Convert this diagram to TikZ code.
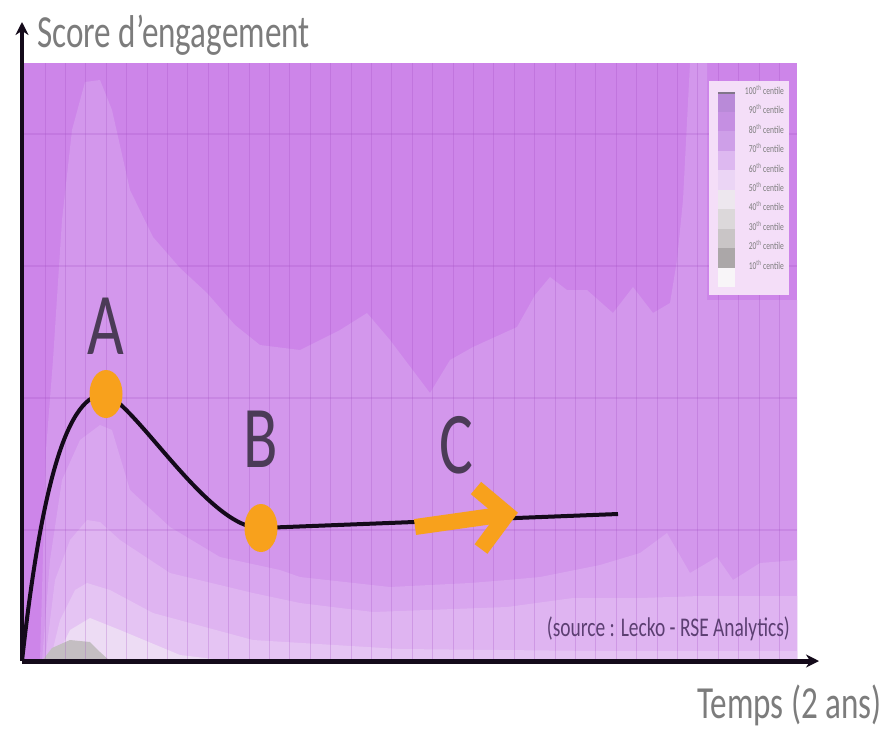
\documentclass[tikz,border=0pt]{standalone}
\usepackage{fontspec}
\setmainfont{Carlito}[FakeStretch=0.72]
\usetikzlibrary{arrows.meta,shapes.geometric,positioning}

\definecolor{bandA}{HTML}{CD85E9}
\definecolor{bandB}{HTML}{D397EC}
\definecolor{bandC}{HTML}{D9A6EF}
\definecolor{bandD}{HTML}{DFB4F1}
\definecolor{bandE}{HTML}{E5C4F3}
\definecolor{bandF}{HTML}{EDDCF4}
\definecolor{bandG}{HTML}{C4BEC2}
\definecolor{gridpurple}{HTML}{9E48C0}
\definecolor{axisblack}{HTML}{140A1A}
\definecolor{dotorange}{HTML}{F8A11C}
\definecolor{letterpurple}{HTML}{4B3B57}
\definecolor{axisgrey}{HTML}{7C7C7C}
\definecolor{srcpurple}{HTML}{5C3F72}
\definecolor{legbg}{HTML}{F4DEF8}
\definecolor{legA}{HTML}{B98AD8}
\definecolor{legB}{HTML}{C58FE2}
\definecolor{legC}{HTML}{CE9FE8}
\definecolor{legD}{HTML}{DDB8F0}
\definecolor{legE}{HTML}{EBD5F5}
\definecolor{legF}{HTML}{EDE7EE}
\definecolor{legG}{HTML}{DCD8DA}
\definecolor{legH}{HTML}{C9C5C6}
\definecolor{legI}{HTML}{ABA7A8}
\definecolor{legJ}{HTML}{F8F5F8}

\begin{document}
\begin{tikzpicture}[x=1pt, y=-1pt,
  axis/.style={draw=axisblack, line width=3.5pt, -{Stealth[length=13pt,width=13pt]}},
  curve/.style={draw=axisblack, line width=4pt},
  dot/.style={ellipse, fill=dotorange, minimum width=33pt, minimum height=48pt, inner sep=0pt},
  arrowC/.style={draw=dotorange, line width=16pt},
  letter/.style={text=letterpurple, font=\fontsize{88}{90}\selectfont, inner sep=0pt},
  axlbl/.style={text=axisgrey, font=\fontsize{46}{50}\selectfont, inner sep=0pt},
  leglbl/.style={text=axisgrey, font=\fontsize{10.5}{11}\selectfont, inner sep=0pt, anchor=east}]

 \useasboundingbox (0,0) rectangle (885,731);

 % percentile bands
 \fill[bandA] (22,63) rectangle (797,661);
 \fill[bandB] plot coordinates {(40,661) (46,450) (53,360) (62,220) (72,130) (85,82) (100,80)
   (112,110) (130,190) (153,237) (180,268) (207,293) (235,325) (260,345) (300,350) (340,330)
   (367,313) (390,340) (430,393) (450,360) (473,347) (517,327) (535,295) (550,277) (567,290)
   (587,290) (613,313) (633,287) (653,313) (670,303) (677,260) (683,200) (690,63) (707,63)
   (707,300) (797,300) (797,661)} -- cycle;
 \fill[bandC] plot coordinates {(42,661) (50,560) (62,480) (80,440) (100,425) (112,430) (130,490)
   (170,527) (220,557) (280,570) (300,577) (390,587) (470,583) (507,580) (540,577) (600,565)
   (640,553) (667,533) (690,573) (717,557) (733,580) (760,563) (797,560) (797,661)} -- cycle;
 \fill[bandD] plot coordinates {(45,661) (55,580) (70,540) (87,520) (100,522) (120,540) (170,573)
   (253,593) (300,603) (373,612) (507,607) (573,598) (640,598) (700,596) (797,596) (797,661)} -- cycle;
 \fill[bandE] plot coordinates {(50,661) (60,620) (75,590) (87,583) (110,590) (153,613) (253,640)
   (400,649) (600,651) (797,651) (797,661)} -- cycle;
 \fill[bandF] plot coordinates {(55,661) (70,630) (90,618) (120,630) (180,655) (230,661)} -- cycle;
 \fill[bandG] plot coordinates {(42,661) (52,648) (70,640) (90,642) (100,652) (110,661)} -- cycle;

 % grid
 \foreach \k in {1,...,37} {
   \draw[gridpurple, opacity=.25, line width=.8pt] ({24.6+20.4*\k},63) -- ++(0,598);
 }
 \foreach \y in {134,266,398,530} {
   \draw[gridpurple, opacity=.2, line width=1.5pt] (22,\y) -- (797,\y);
 }

 % legend
 \fill[legbg] (709,81) rectangle (789,295);
 \foreach \i/\col/\pc in {0/legA/100,1/legB/90,2/legC/80,3/legD/70,4/legE/60,
                          5/legF/50,6/legG/40,7/legH/30,8/legI/20,9/legJ/10} {
   \fill[\col] (718,{92+19.5*\i}) rectangle (735,{92+19.5*(\i+1)});
   \node[leglbl] (leg\pc) at (784,{90+19.4*\i}) {\pc\textsuperscript{th} centile};
 }
 \draw[letterpurple!70, line width=1.5pt] (718,93) -- (735,93);

 % axes
 \coordinate (O) at (22,661);
 \coordinate (ytop) at (22,22);
 \coordinate (xend) at (819,661);
 \draw[axis] (O) -- (ytop);
 \draw[axis, line width=5pt] (O) -- (xend);

 % curve
 \coordinate (A) at (106,394);
 \coordinate (B) at (261,528);
 \coordinate (E) at (618,514);
 \draw[curve] (O) .. controls (42,480) and (68,393) .. (A)
   .. controls (140,410) and (210,529) .. (B) -- (E);
 \node[dot] (dotA) at (A) {};
 \node[dot] (dotB) at (B) {};

 % arrow C
 \coordinate (c0) at (415,527);
 \coordinate (ctip) at (507,514);
 \coordinate (cup) at (476,488);
 \coordinate (cdown) at (481,549);
 \draw[arrowC] (c0) -- (ctip);
 \draw[arrowC, line join=miter] (cup) -- (ctip) -- (cdown);

 % labels
 \node[letter, above=15pt of dotA] (labA) {A};
 \node[letter, above=36pt of dotB] (labB) {B};
 \node[letter, anchor=base] (labC) at (456,473) {C};
 \node[axlbl, anchor=base west] (ylbl) at (37,47) {Score d’engagement};
 \node[axlbl, anchor=base east] (xlbl) at (882,718) {Temps (2 ans)};
 \node[text=srcpurple, font=\fontsize{27}{30}\selectfont, inner sep=0pt, anchor=base east] (src)
   at (790,636) {(source : Lecko - RSE Analytics)};

\end{tikzpicture}
\end{document}
